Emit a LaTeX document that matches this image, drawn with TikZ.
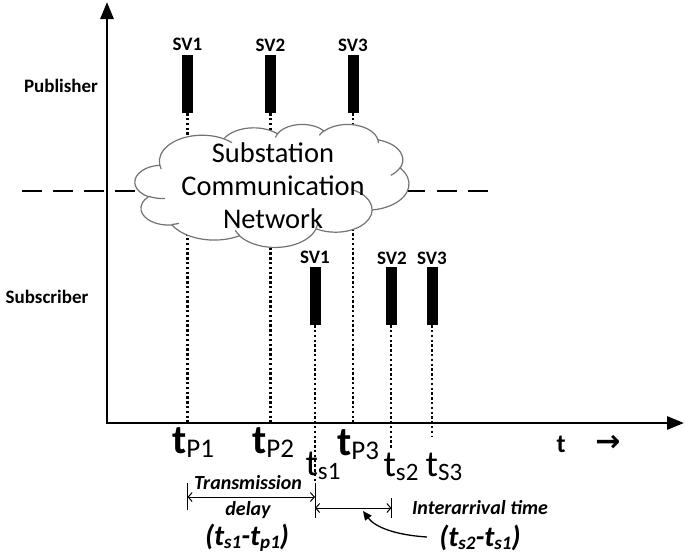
\documentclass[tikz,border=0pt]{standalone}
\usepackage{fontspec}
\setmainfont{Carlito}
\newfontfamily\arrowfont{DejaVu Sans}
\usetikzlibrary{arrows.meta}
% elliptical arc with DrawingML-style (visual) angles: wR hR stAng swAng
\newcommand\oarc[4]{%
  \pgfmathsetmacro\cldthA{#3}%
  \pgfmathsetmacro\cldthB{#3+#4}%
  \pgfmathsetmacro\cldtA{atan2(#1*sin(\cldthA),#2*cos(\cldthA))}%
  \pgfmathsetmacro\cldtBr{atan2(#1*sin(\cldthB),#2*cos(\cldthB))}%
  \pgfmathsetmacro\cldtB{\cldtA+mod(\cldtBr-\cldtA+720,360)}%
  \pgfpatharcaxes{\cldtA}{\cldtB}{\pgfpointxy{#1}{0}}{\pgfpointxy{0}{#2}}%
}
\begin{document}
\begin{tikzpicture}[x=1pt,y=-1pt,
  axis/.style={line width=2.8pt,-{Triangle[length=17pt,width=13pt]}},
  bar/.style={fill=black,draw=none,minimum width=11pt,inner sep=0pt},
  dots/.style={line width=2.2pt,dash pattern=on 2.4pt off 2.4pt},
  svlab/.style={font=\fontsize{19}{19}\selectfont\bfseries,inner sep=0pt},
  rolelab/.style={font=\fontsize{19}{19}\selectfont\bfseries,inner sep=0pt},
  dim/.style={line width=1pt,{Straight Barb[length=4pt,width=9pt]}-{Straight Barb[length=4pt,width=9pt]}},
  tick/.style={line width=1pt},
  tp/.style={inner sep=0pt,anchor=base},
  itlab/.style={font=\fontsize{20}{20}\selectfont\bfseries\itshape,inner sep=0pt,align=center}
]
\useasboundingbox (0,0) rectangle (685,554);
% axes
\coordinate (O) at (107,423);
\coordinate (Ytop) at (107,2);
\coordinate (Xend) at (684,423);
% dashed line
\coordinate (dl1) at (22,190.5);
\coordinate (dl2) at (145,190.5);
\coordinate (dr1) at (405,190.5);
\coordinate (dr2) at (488,190.5);
\draw[line width=2pt,dash pattern=on 20pt off 11pt] (dl1) -- (dl2);
\draw[line width=2pt,dash pattern=on 20pt off 11.5pt] (dr1) -- (dr2);
% publisher bars
\node[bar,minimum height=58pt] (p1) at (187.5,84) {};
\node[bar,minimum height=58pt] (p2) at (270.5,84) {};
\node[bar,minimum height=58pt] (p3) at (353,84) {};
\node[svlab] (lp1) at (187.5,44) {SV1};
\node[svlab] (lp2) at (270.5,45) {SV2};
\node[svlab] (lp3) at (353,45) {SV3};
% subscriber bars
\node[bar,minimum height=58pt] (s1) at (315,296) {};
\node[bar,minimum height=58pt] (s2) at (391,296) {};
\node[bar,minimum height=58pt] (s3) at (432,296) {};
\node[svlab] (ls1) at (315,257) {SV1};
\node[svlab] (ls2) at (392,258) {SV2};
\node[svlab] (ls3) at (432,258) {SV3};
% dotted lines
\coordinate (a1) at (187.5,423);
\coordinate (a2) at (270.5,423);
\coordinate (a3) at (353,423);
\coordinate (b1) at (315,483);
\coordinate (b2) at (391,449);
\coordinate (b3) at (432,437);
\draw[dots] (p1.south) -- (a1);
\draw[dots] (p2.south) -- (a2);
\draw[dots] (p3.south) -- (a3);
\draw[dots] (s1.south) -- (b1);
\draw[dots] (s2.south) -- (b2);
\draw[dots] (s3.south) -- (b3);
% cloud (office-style outline)
\begin{scope}[shift={(135,124)},x=0.634pt,y=-0.2847pt]
  \pgfsetlinewidth{1.2pt}
  \pgfsetstrokecolor{black!55}
  \pgfsetfillcolor{white}
  \pgfpathmoveto{\pgfpointxy{39.00}{143.70}}
  \oarc{67.53}{91.90}{-190.4875}{123.7805}
  \oarc{53.33}{72.67}{-144.1024}{89.9452}
  \oarc{43.65}{59.45}{-145.8079}{99.7230}
  \oarc{48.57}{65.95}{-130.9861}{117.2417}
  \oarc{53.33}{72.73}{-78.7089}{109.0269}
  \oarc{67.75}{92.20}{-46.2673}{130.2690}
  \oarc{57.85}{78.67}{0.6250}{114.0333}
  \oarc{67.52}{92.15}{22.4516}{115.1726}
  \oarc{77.20}{105.43}{66.2426}{75.7110}
  \oarc{43.60}{59.18}{-274.9421}{146.7356}
  \oarc{43.45}{59.45}{-246.8285}{152.5189}
  \pgfpathclose
  \pgfusepath{fill,stroke}
  \pgfpathmoveto{\pgfpointxy{46.93}{261.77}}\oarc{43.45}{59.45}{86.742}{26.4295}
  \pgfpathmoveto{\pgfpointxy{69.28}{348.99}}\oarc{43.60}{59.18}{73.6105}{11.4475}
  \pgfpathmoveto{\pgfpointxy{164.78}{390.90}}\oarc{67.52}{92.15}{137.6242}{14.0811}
  \pgfpathmoveto{\pgfpointxy{288.27}{347.51}}\oarc{67.52}{92.15}{6.4533}{15.9984}
  \pgfpathmoveto{\pgfpointxy{341.29}{229.54}}\oarc{57.85}{78.67}{-70.2924}{70.9174}
  \pgfpathmoveto{\pgfpointxy{417.98}{153.54}}\oarc{53.33}{72.73}{30.3180}{27.7515}
  \pgfpathmoveto{\pgfpointxy{383.24}{54.26}}\oarc{48.57}{65.95}{-13.7443}{14.8589}
  \pgfpathmoveto{\pgfpointxy{290.78}{39.52}}\oarc{48.57}{65.95}{-149.1815}{18.1954}
  \pgfpathmoveto{\pgfpointxy{221.41}{47.20}}\oarc{43.65}{59.45}{-163.4943}{17.6864}
  \pgfpathmoveto{\pgfpointxy{140.00}{51.92}}\oarc{67.53}{91.90}{-66.7070}{12.3194}
  \pgfpathmoveto{\pgfpointxy{41.27}{157.89}}\oarc{67.53}{91.90}{157.6544}{11.8582}
  \pgfusepath{stroke}
\end{scope}
\node[align=center,font=\fontsize{28.5}{33}\selectfont,inner sep=0pt] (ctext) at (273,186)
  {Substation\\Communication\\Network};
% axes drawn on top
\draw[axis] (O) -- (Ytop);
\draw[axis] ([xshift=-1.4pt]O) -- (Xend);
% role labels
\node[rolelab] (pub) at (61,86) {Publisher};
\node[rolelab] (sub) at (47,297) {Subscriber};
% time labels
\newcommand{\tlabP}[1]{{\fontsize{41}{41}\selectfont\bfseries t}\raisebox{-4pt}{\fontsize{27}{27}\selectfont #1}}
\newcommand{\tlabS}[1]{{\fontsize{37}{37}\selectfont t}\raisebox{-4pt}{\fontsize{25}{25}\selectfont #1}}
\node[tp] (tp1) at (193,453) {\tlabP{P1}};
\node[tp] (tp2) at (273,453) {\tlabP{P2}};
\node[tp] (tp3) at (358,455) {\tlabP{P3}};
\node[tp] (ts1) at (323,475) {\tlabS{s1}};
\node[tp] (ts2) at (401,476) {\tlabS{s2}};
\node[tp] (ts3) at (444,476) {\tlabS{S3}};
\node[tp,font=\fontsize{26}{26}\selectfont\bfseries] (tt) at (561,452) {t};
\node[tp,font=\arrowfont\bfseries\fontsize{30}{30}\selectfont] (tarrow) at (608,451) {→};
% transmission delay
\coordinate (td1) at (187.5,497);
\coordinate (td2) at (315,497);
\draw[tick] (187.5,483) -- (187.5,510);
\draw[tick] (b1) -- (315,518);
\draw[dim] (td1) -- (td2);
\node[itlab] (tr) at (248,483) {Transmission};
\node[itlab] (dl) at (248,510) {delay};
\node[itlab,font=\fontsize{29}{29}\selectfont\bfseries\itshape] (f1) at (247,538) {(t\raisebox{-3pt}{\fontsize{19}{19}\selectfont s1}-t\raisebox{-3pt}{\fontsize{19}{19}\selectfont p1})};
% interarrival
\coordinate (ia1) at (315,508);
\coordinate (ia2) at (391.5,508);
\draw[tick] (391.5,498) -- (391.5,518);
\draw[dim] (ia1) -- (ia2);
\node[itlab] (ia) at (480,508) {Interarrival time};
\node[itlab,font=\fontsize{29}{29}\selectfont\bfseries\itshape] (f2) at (480,538) {(t\raisebox{-3pt}{\fontsize{19}{19}\selectfont s2}-t\raisebox{-3pt}{\fontsize{19}{19}\selectfont s1})};
\coordinate (cstart) at (427,537);
\coordinate (cend) at (363,511);
\draw[line width=1.3pt,-{Triangle[length=9pt,width=8pt]}] (cstart) .. controls (395,535) and (375,527) .. (cend);
\end{tikzpicture}
\end{document}
